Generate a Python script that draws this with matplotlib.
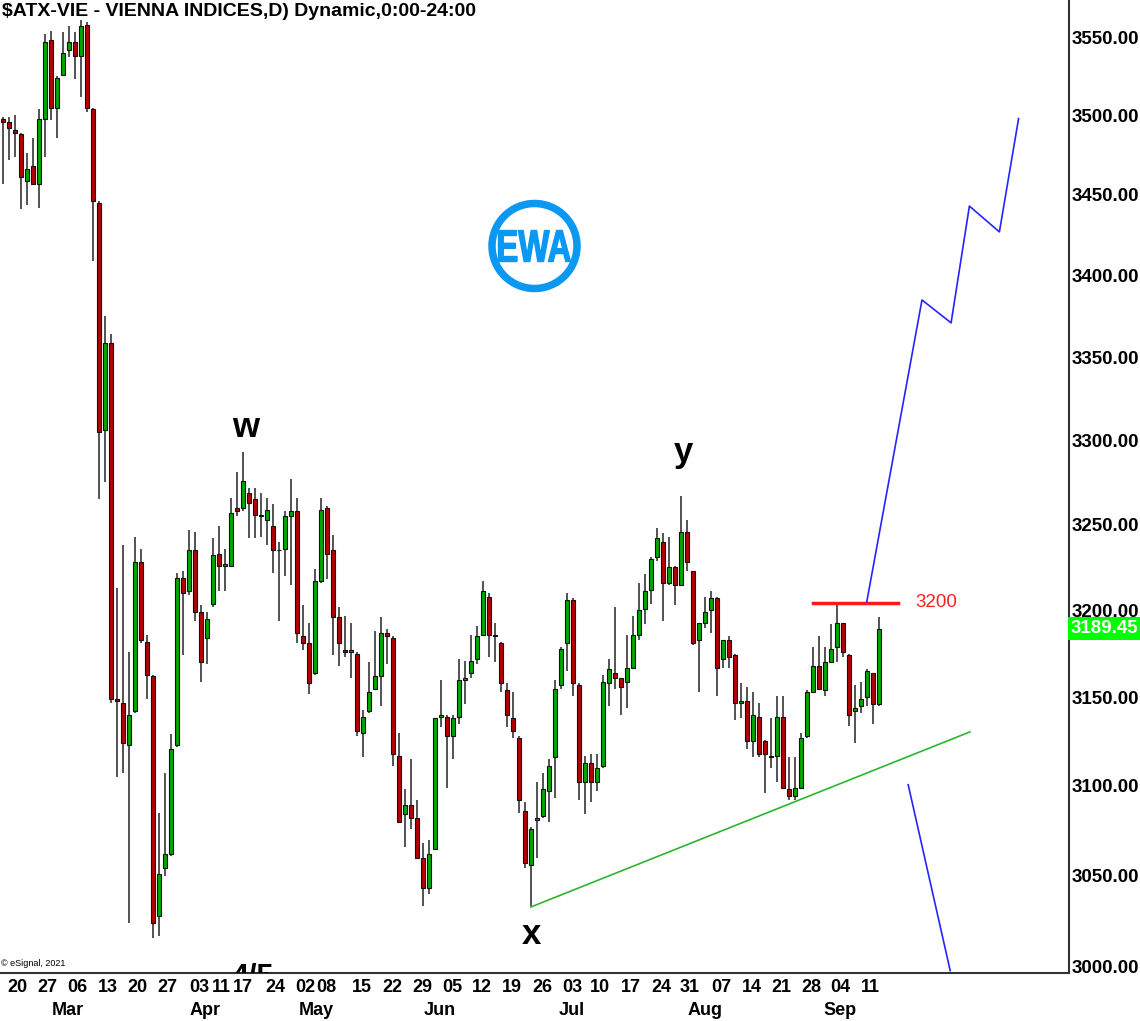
import matplotlib
matplotlib.use('Agg')
import matplotlib.pyplot as plt
import matplotlib.transforms as mtransforms
from matplotlib.patches import Ellipse, PathPatch
from matplotlib.textpath import TextPath
from matplotlib.font_manager import FontProperties
from matplotlib.ticker import FixedLocator, NullLocator
import numpy as np

plt.rcParams['font.family'] = ['Liberation Sans', 'DejaVu Sans']

TITLE = r'\$ATX-VIE - VIENNA INDICES,D) Dynamic,0:00-24:00'

# daily candles, oldest first
opens = [3498, 3496, 3491, 3488, 3459, 3468, 3457, 3498, 3548, 3505,
         3526, 3542, 3547, 3538, 3558, 3504, 3445, 3306, 3359, 3149,
         3147, 3123, 3142, 3228, 3182, 3162, 3028, 3054, 3062, 3123,
         3219, 3211, 3235, 3199, 3184, 3204, 3233, 3226, 3226, 3260,
         3260, 3269, 3265, 3255, 3253, 3249, 3235, 3236, 3255, 3258,
         3185, 3181, 3164, 3217, 3260, 3235, 3196, 3177, 3176, 3175,
         3130, 3142, 3155, 3162, 3187, 3184, 3117, 3084, 3089, 3082,
         3060, 3043, 3065, 3139, 3139, 3128, 3139, 3160, 3164, 3172,
         3186, 3208, 3185, 3181, 3154, 3138, 3127, 3086, 3056, 3081,
         3083, 3097, 3116, 3157, 3181, 3206, 3157, 3102, 3113, 3102,
         3111, 3158, 3164, 3161, 3159, 3167, 3186, 3201, 3212, 3231,
         3240, 3216, 3225, 3215, 3246, 3223, 3183, 3193, 3200, 3207,
         3172, 3183, 3174, 3147, 3148, 3125, 3139, 3125, 3116, 3117,
         3139, 3098, 3094, 3099, 3128, 3153, 3168, 3154, 3170, 3179,
         3193, 3174, 3142, 3145, 3150, 3164, 3146]
highs = [3499, 3499, 3500, 3489, 3476, 3486, 3504, 3552, 3554, 3525,
         3553, 3557, 3553, 3561, 3560, 3505, 3446, 3375, 3364, 3213,
         3238, 3176, 3243, 3236, 3186, 3163, 3085, 3107, 3129, 3222,
         3223, 3247, 3246, 3203, 3199, 3242, 3249, 3236, 3266, 3281,
         3293, 3272, 3272, 3269, 3266, 3262, 3240, 3258, 3277, 3266,
         3203, 3193, 3224, 3266, 3261, 3244, 3202, 3197, 3193, 3176,
         3143, 3170, 3188, 3196, 3189, 3185, 3130, 3098, 3115, 3092,
         3068, 3070, 3138, 3160, 3140, 3140, 3172, 3171, 3186, 3191,
         3217, 3210, 3193, 3182, 3158, 3153, 3128, 3091, 3077, 3102,
         3107, 3115, 3160, 3179, 3210, 3207, 3158, 3117, 3118, 3118,
         3163, 3172, 3202, 3161, 3186, 3197, 3216, 3221, 3231, 3248,
         3245, 3243, 3226, 3267, 3253, 3223, 3193, 3208, 3211, 3208,
         3183, 3185, 3175, 3158, 3156, 3153, 3147, 3126, 3138, 3151,
         3151, 3116, 3116, 3130, 3154, 3179, 3185, 3179, 3192, 3204,
         3193, 3175, 3157, 3159, 3166, 3164, 3196]
lows = [3457, 3472, 3474, 3441, 3444, 3456, 3442, 3474, 3497, 3486,
        3525, 3537, 3523, 3512, 3502, 3409, 3265, 3275, 3147, 3105,
        3107, 3024, 3141, 3181, 3149, 3016, 3017, 3050, 3061, 3122,
        3174, 3209, 3194, 3159, 3169, 3202, 3211, 3211, 3226, 3255,
        3258, 3242, 3242, 3243, 3238, 3222, 3194, 3220, 3215, 3181,
        3177, 3152, 3163, 3216, 3218, 3174, 3168, 3173, 3161, 3128,
        3116, 3141, 3154, 3145, 3169, 3111, 3079, 3066, 3076, 3059,
        3033, 3040, 3064, 3133, 3099, 3115, 3135, 3146, 3161, 3169,
        3185, 3173, 3170, 3153, 3133, 3127, 3085, 3054, 3033, 3060,
        3082, 3080, 3093, 3155, 3165, 3151, 3092, 3084, 3091, 3097,
        3110, 3145, 3155, 3140, 3144, 3166, 3183, 3192, 3204, 3229,
        3194, 3215, 3203, 3214, 3223, 3180, 3153, 3190, 3187, 3151,
        3167, 3167, 3137, 3138, 3121, 3116, 3116, 3096, 3110, 3102,
        3098, 3092, 3092, 3099, 3127, 3153, 3154, 3151, 3170, 3170,
        3173, 3134, 3124, 3141, 3145, 3135, 3145]
closes = [3496, 3492, 3489, 3461, 3466, 3457, 3498, 3547, 3505, 3524,
          3540, 3547, 3538, 3557, 3505, 3446, 3305, 3359, 3149, 3148,
          3124, 3140, 3228, 3183, 3163, 3024, 3051, 3062, 3121, 3219,
          3210, 3235, 3199, 3170, 3195, 3232, 3226, 3227, 3257, 3258,
          3276, 3263, 3256, 3256, 3259, 3235, 3235, 3255, 3258, 3187,
          3181, 3158, 3217, 3259, 3233, 3196, 3181, 3176, 3177, 3131,
          3139, 3153, 3162, 3187, 3185, 3118, 3080, 3089, 3082, 3060,
          3043, 3062, 3138, 3140, 3128, 3138, 3160, 3161, 3171, 3185,
          3211, 3186, 3186, 3158, 3140, 3131, 3092, 3057, 3076, 3082,
          3098, 3111, 3155, 3178, 3206, 3158, 3102, 3113, 3102, 3110,
          3159, 3166, 3161, 3156, 3167, 3186, 3200, 3211, 3230, 3242,
          3216, 3225, 3215, 3246, 3228, 3181, 3193, 3199, 3207, 3167,
          3183, 3173, 3147, 3148, 3125, 3140, 3118, 3118, 3117, 3139,
          3099, 3094, 3099, 3127, 3153, 3168, 3155, 3170, 3178, 3193,
          3176, 3140, 3144, 3149, 3165, 3146, 3189.45]

# x axis labels (positions in bar units)
week_pos = [2.4, 7.4, 12.4, 17.5, 22.5, 27.5, 32.7, 36.4, 40.0, 45.4,
            50.4, 54.0, 59.9, 64.9, 69.9, 74.9, 79.9, 84.9, 89.9, 94.9,
            99.6, 104.7, 109.7, 114.5, 119.7, 124.9, 129.7, 134.7, 139.6, 144.6]
week_labels = ['20', '27', '06', '13', '20', '27', '03', '11', '17', '24',
               '02', '08', '15', '22', '29', '05', '12', '19', '26', '03',
               '10', '17', '24', '31', '07', '14', '21', '28', '04', '11']
month_pos = [10.9, 33.7, 52.2, 72.9, 94.9, 117.1, 139.6]
month_labels = ['Mar', 'Apr', 'May', 'Jun', 'Jul', 'Aug', 'Sep']
price_ticks = [3000, 3050, 3100, 3150, 3200, 3250, 3300, 3350, 3400, 3450, 3500, 3550]

# annotations
trend_x = [88, 161.2]
trend_y = [3032.7, 3130.4]
level_x = [135.1, 149.2]
level_y = 3204.5
level_label = '3200'
bull_x = [144.0, 153.2, 158.05, 161.1, 166.1, 169.3]
bull_y = [3205, 3385, 3371, 3443, 3427, 3498]
bear_x = [150.9, 157.9]
bear_y = [3100.6, 2998]
waves = [('w', 40.4, 3307.5), ('y', 113.5, 3293.0), ('x', 88.05, 3017.5)]

UP = '#00a800'
DOWN = '#b80000'
WICK = '#454545'
LOGO = '#0a98f2'

fig = plt.figure(figsize=(11.4, 10.21), dpi=100)
ax = fig.add_axes([0, 48 / 1021, 1069 / 1140, 973 / 1021])
ax.set_yscale('log')
ax.set_xlim(-0.45, 177.7)
ax.set_ylim(2996.7, 3573.9)

o = np.array(opens, float)
h = np.array(highs, float)
l = np.array(lows, float)
c = np.array(closes, float)
idx = np.arange(len(o))
colors = np.where(c >= o, UP, DOWN)

ax.vlines(idx, l, h, color=WICK, lw=1.3, zorder=2)
ax.bar(idx, np.abs(c - o), bottom=np.minimum(o, c), width=0.7, color=colors,
       edgecolor='#111111', linewidth=0.8, zorder=3)

ax.plot(trend_x, trend_y, color='#2db52d', lw=1.2, zorder=4)
ax.plot(level_x, [level_y, level_y], color='#ff1a1a', lw=2.5, zorder=4)
ax.text(152.1, level_y, level_label, color='#ff2020', fontsize=13.5, va='center', ha='left')
ax.plot(bull_x, bull_y, color='#2424ff', lw=1.2, zorder=4)
ax.plot(bear_x, bear_y, color='#2424ff', lw=1.2, zorder=4)

for label, wx, wy in waves:
    ax.text(wx, wy, label, fontsize=25, fontweight='bold', ha='center', va='center', zorder=5)

# label cut off by the bottom edge of the chart
cut = ax.text(41.6, 3002.6, '4/5', fontsize=22, fontweight='bold', ha='center', va='top')
cut.set_clip_box(ax.bbox)
cut.set_clip_on(True)

# logo
ax.add_patch(Ellipse((534.5 / 1069, 1 - 246 / 973), 85 / 1069, 85 / 973,
                     transform=ax.transAxes, fill=False, ec=LOGO, lw=5.4, zorder=6))
tp = TextPath((0, 0), 'EWA', size=1, prop=FontProperties(family='Liberation Sans', weight='bold'))
ext = tp.get_extents()
logo_w, logo_h = 72, 31
cx, cy = 534.5, 1021 - 246
logo_tr = (mtransforms.Affine2D()
           .translate(-ext.x0 - ext.width / 2, -ext.y0 - ext.height / 2)
           .scale(logo_w / ext.width, logo_h / ext.height)
           .translate(cx, cy))
fig.patches.append(PathPatch(tp, transform=logo_tr, fc=LOGO, ec=LOGO, lw=1.0, zorder=6))

# axes
for s in ['top', 'left']:
    ax.spines[s].set_visible(False)
ax.spines['right'].set_color('#333333')
ax.spines['right'].set_linewidth(1.5)
ax.spines['bottom'].set_color('#333333')
ax.spines['bottom'].set_linewidth(1.5)

ax.yaxis.tick_right()
ax.yaxis.set_major_locator(FixedLocator(price_ticks))
ax.yaxis.set_minor_locator(NullLocator())
ax.set_yticklabels(['%.2f' % v for v in price_ticks], fontweight='bold', fontsize=13.5)
ax.tick_params(axis='y', which='both', length=0, pad=2)

ax.set_xticks(week_pos)
ax.set_xticklabels(week_labels, fontweight='bold', fontsize=13)
ax.tick_params(axis='x', length=0, pad=4)

trans = mtransforms.blended_transform_factory(ax.transData, fig.transFigure)
for mp, ml in zip(month_pos, month_labels):
    ax.text(mp, 11 / 1021, ml, transform=trans, fontweight='bold', fontsize=13,
            ha='center', va='center', clip_on=False)

ax.annotate('%.2f' % closes[-1], xy=(1, closes[-1]), xycoords=('axes fraction', 'data'),
            xytext=(1.5, 0), textcoords='offset points', va='center', ha='left',
            color='white', fontweight='bold', fontsize=13.5, zorder=10,
            bbox=dict(boxstyle='square,pad=0.15', fc='#00ff00', ec='none'))

fig.text(2 / 1140, 1 - 11 / 1021, TITLE, fontsize=14, fontweight='bold', va='center', ha='left')
fig.text(1 / 1140, (1021 - 963) / 1021, '© eSignal, 2021', fontsize=6.5, va='center', ha='left')

fig.savefig('out.png', dpi=100)
